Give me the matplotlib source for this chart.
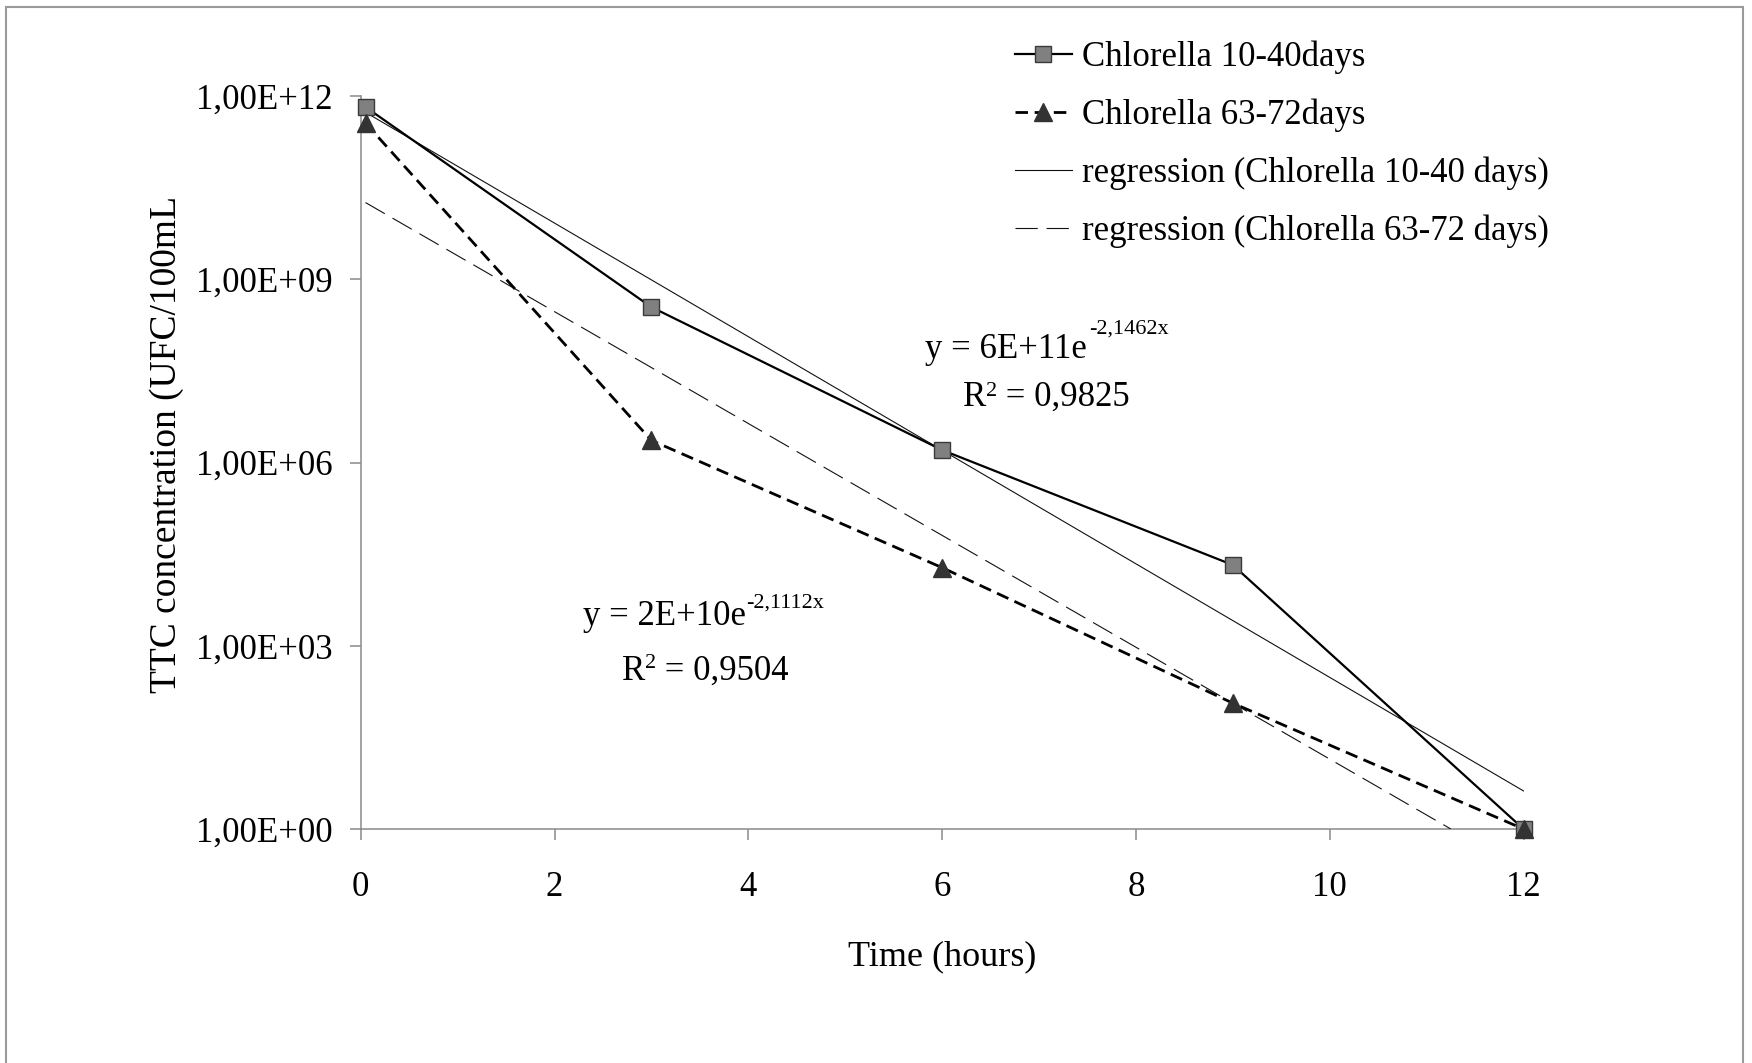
import matplotlib
matplotlib.use("Agg")
import matplotlib.pyplot as plt
from matplotlib.transforms import IdentityTransform
from matplotlib.patches import Rectangle
from matplotlib.ticker import FixedLocator, NullLocator

# ---------------- data ----------------
time_h = [0.05, 3, 6, 9, 12]
chl_10_40 = [6.6e11, 3.5e8, 1.6e6, 2.1e4, 1.0]
chl_63_72 = [3.6e11, 2.3e6, 1.9e4, 1.15e2, 1.0]

reg_10_40_x = [0.05, 12]
reg_10_40_y = [5.4e11, 4.2]
reg_63_72_x = [0.05, 11.25]
reg_63_72_y = [1.8e10, 1.0]

x_ticks = [0, 2, 4, 6, 8, 10, 12]
y_ticks = [1e0, 1e3, 1e6, 1e9, 1e12]
y_tick_labels = ["1,00E+00", "1,00E+03", "1,00E+06", "1,00E+09", "1,00E+12"]

labels = ["Chlorella 10-40days", "Chlorella 63-72days",
          "regression (Chlorella 10-40 days)", "regression (Chlorella 63-72 days)"]

# ---------------- figure ----------------
W, H = 1752, 1063
DPI = 100
plt.rcParams["font.family"] = ["Liberation Serif", "DejaVu Serif"]
fig = plt.figure(figsize=(W / DPI, H / DPI), dpi=DPI)
fig.patch.set_facecolor("white")

ax_l, ax_r, ax_t, ax_b = 360.7, 1523.5, 96, 829
ax = fig.add_axes([ax_l / W, 1 - ax_b / H, (ax_r - ax_l) / W, (ax_b - ax_t) / H])

axis_col = "#8a8a8a"
FS = 25

l1, = ax.plot(time_h, chl_10_40, color="black", lw=1.6, marker="s", ms=12,
              mfc="#808080", mec="#3a3a3a", mew=1.0, clip_on=False, zorder=4)
l2, = ax.plot(time_h, chl_63_72, color="black", lw=2.0, ls=(0, (4.5, 2.4)),
              marker="^", ms=13, mfc="#333333", mec="#333333", mew=1.0,
              clip_on=False, zorder=5)
l3, = ax.plot(reg_10_40_x, reg_10_40_y, color="#111111", lw=0.8, zorder=3)
l4, = ax.plot(reg_63_72_x, reg_63_72_y, color="#111111", lw=0.8,
              ls=(0, (20, 8)), zorder=3)

ax.set_yscale("log")
ax.set_xlim(0, 12)
ax.set_ylim(1, 1e12)
ax.xaxis.set_major_locator(FixedLocator(x_ticks))
ax.set_xticklabels([str(v) for v in x_ticks])
ax.yaxis.set_major_locator(FixedLocator(y_ticks))
ax.yaxis.set_minor_locator(NullLocator())
ax.set_yticklabels(y_tick_labels)

for s in ["top", "right"]:
    ax.spines[s].set_visible(False)
for s in ["left", "bottom"]:
    ax.spines[s].set_color(axis_col)
    ax.spines[s].set_linewidth(1.1)
ax.tick_params(axis="both", which="major", direction="out", length=8,
               width=1.1, color=axis_col, labelsize=FS, labelcolor="black")
ax.tick_params(axis="x", pad=22.5)
ax.tick_params(axis="y", pad=12)
ax.set_facecolor("none")

# axis titles
pix = IdentityTransform()
fig.text(942, H - 965, "Time (hours)", transform=pix, ha="center",
         va="baseline", fontsize=26)
fig.text(167, H - 444, "TTC concentration (UFC/100mL", transform=pix,
         ha="center", va="center", rotation=90, fontsize=27)

# regression equations
def eq(x_main, y_base, main, sup, x_sup, y_sup_base):
    fig.text(x_main, H - y_base, main, transform=pix, ha="left",
             va="baseline", fontsize=FS)
    fig.text(x_sup, H - y_sup_base, sup, transform=pix, ha="left",
             va="baseline", fontsize=16)

eq(925, 358, "y = 6E+11e", "-2,1462x", 1089, 334)
eq(963, 406, "R", "2", 986, 396)
fig.text(997, H - 406, " = 0,9825", transform=pix, ha="left",
         va="baseline", fontsize=FS)

eq(583, 625, "y = 2E+10e", "-2,1112x", 746, 608)
eq(622, 680, "R", "2", 645, 668)
fig.text(656, H - 680, " = 0,9504", transform=pix, ha="left",
         va="baseline", fontsize=FS)

# legend
leg = ax.legend([l1, l2, l3, l4], labels, loc="upper left",
                bbox_to_anchor=(1014.5 / W, 1 - 41 / H),
                bbox_transform=fig.transFigure, frameon=False, fontsize=FS,
                borderpad=0, borderaxespad=0, handlelength=1.67,
                handletextpad=0.26, labelspacing=0.70, numpoints=1)

# outer border
fig.patches.append(Rectangle((6 / W, -0.02), (1743 - 6) / W, 1.02 - 7 / H,
                             transform=fig.transFigure, fill=False,
                             edgecolor="#9a9a9a", lw=1.5))

fig.savefig("out.png", dpi=DPI)
